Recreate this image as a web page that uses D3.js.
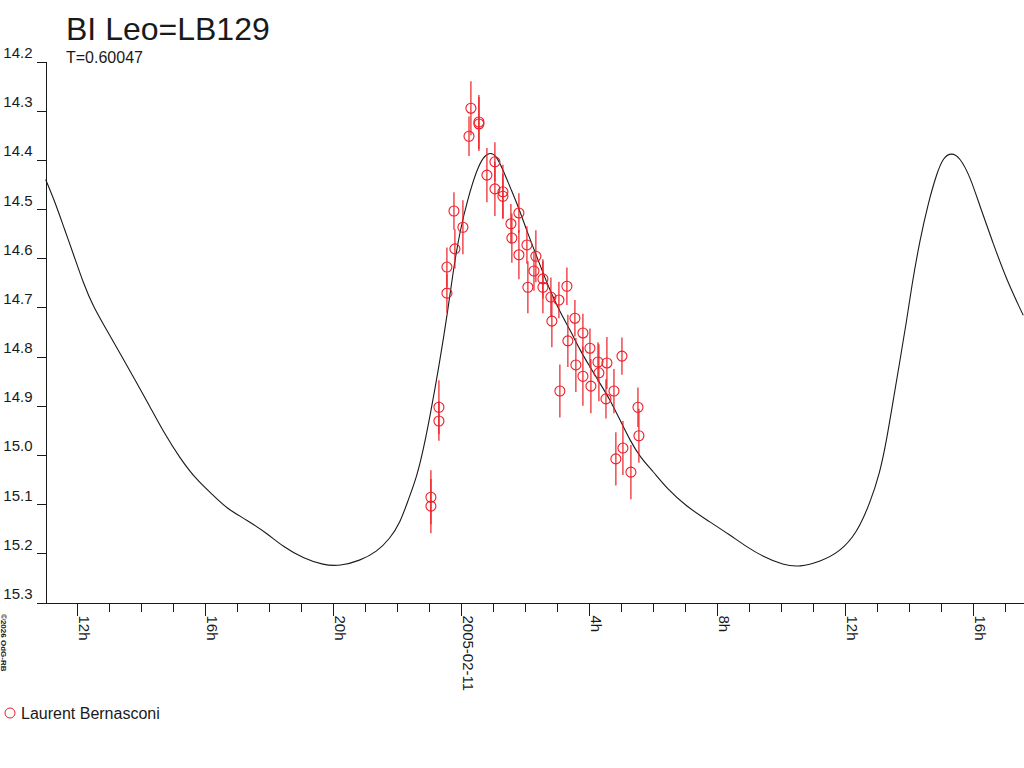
<!DOCTYPE html>
<html>
<head>
<meta charset="utf-8">
<script src="https://cdn.jsdelivr.net/npm/d3@7"></script>
<style>
  body { margin: 0; background: #fff; }
  svg { display: block; font-family: "Liberation Sans", Arial, sans-serif; }
</style>
</head>
<body>
<div class="lightCurve"></div>
<script>
// hours counted from 2005-02-11 00:00 UT
const base = Date.UTC(2005, 1, 11, 0, 0)

const obsHours = [-0.94, -0.94, -0.69, -0.69, -0.44, -0.44, -0.19, -0.22, 0.06, 0.25,
  0.31, 0.56, 0.56, 0.81, 1.06, 1.06, 1.31, 1.31, 1.56, 1.59,
  1.81, 1.81, 2.06, 2.09, 2.28, 2.34, 2.56, 2.56, 2.81, 2.84,
  3.06, 3.31, 3.34, 3.09, 3.56, 3.59, 3.81, 3.81, 4.03, 4.06,
  4.28, 4.31, 4.56, 4.53, 4.78, 5.03, 4.84, 5.06, 5.31, 5.53, 5.56]
const obsMag = [15.087, 15.105, 14.904, 14.932, 14.619, 14.672, 14.582, 14.505, 14.538, 14.353,
  14.296, 14.324, 14.328, 14.432, 14.405, 14.460, 14.466, 14.475, 14.531, 14.560,
  14.509, 14.594, 14.574, 14.660, 14.627, 14.597, 14.643, 14.660, 14.680, 14.729,
  14.686, 14.658, 14.769, 14.871, 14.723, 14.818, 14.753, 14.841, 14.784, 14.861,
  14.812, 14.834, 14.814, 14.887, 14.871, 14.800, 15.009, 14.987, 15.036, 14.904, 14.962]
const obsErr = [0.055, 0.055, 0.055, 0.04, 0.04, 0.04, 0.04, 0.038, 0.055, 0.04,
  0.055, 0.055, 0.055, 0.055, 0.04, 0.055, 0.055, 0.045, 0.04, 0.05,
  0.04, 0.05, 0.038, 0.053, 0.04, 0.053, 0.04, 0.053, 0.04, 0.053,
  0.037, 0.038, 0.053, 0.054, 0.037, 0.055, 0.039, 0.06, 0.04, 0.055,
  0.04, 0.058, 0.053, 0.04, 0.045, 0.038, 0.054, 0.055, 0.055, 0.04, 0.055]

const curveHours = [-12.98, -12.69, -12.38, -12.12, -11.80, -11.49, -11.07, -10.66, -10.13, -9.72,
  -9.30, -8.78, -8.26, -7.74, -7.32, -6.70, -6.07, -5.55, -4.93, -4.30,
  -3.78, -3.16, -2.63, -2.22, -1.91, -1.65, -1.38, -1.18, -0.97, -0.68,
  -0.40, -0.24, -0.03, 0.23, 0.49, 0.70, 0.91, 1.09, 1.32, 1.53,
  1.79, 2.05, 2.31, 2.57, 2.78, 3.09, 3.41, 3.72, 4.03, 4.34,
  4.66, 4.97, 5.28, 5.59, 6.01, 6.43, 7.05, 7.68, 8.41, 8.93,
  9.45, 10.07, 10.59, 11.22, 11.84, 12.37, 12.78, 13.09, 13.30, 13.51,
  13.72, 13.93, 14.08, 14.34, 14.60, 14.87, 15.07, 15.33, 15.59, 15.91,
  16.22, 16.63, 17.05, 17.57]
const curveMag = [14.441, 14.486, 14.544, 14.591, 14.652, 14.700, 14.747, 14.794, 14.855, 14.903,
  14.954, 15.008, 15.052, 15.083, 15.110, 15.133, 15.160, 15.188, 15.211, 15.225,
  15.227, 15.216, 15.198, 15.171, 15.140, 15.093, 15.045, 14.991, 14.923, 14.818,
  14.703, 14.625, 14.544, 14.476, 14.422, 14.394, 14.386, 14.391, 14.422, 14.456,
  14.496, 14.544, 14.588, 14.632, 14.666, 14.710, 14.747, 14.788, 14.822, 14.855,
  14.889, 14.930, 14.971, 15.005, 15.035, 15.069, 15.106, 15.133, 15.164, 15.188,
  15.208, 15.225, 15.229, 15.218, 15.198, 15.160, 15.099, 15.038, 14.971, 14.889,
  14.808, 14.727, 14.659, 14.564, 14.489, 14.428, 14.396, 14.386, 14.396, 14.435,
  14.496, 14.571, 14.645, 14.717]

const yTicks = [14.2, 14.3, 14.4, 14.5, 14.6, 14.7, 14.8, 14.9, 15.0, 15.1, 15.2, 15.3]
const xMajorHours = [-12, -8, -4, 0, 4, 8, 12, 16]
const xMajorLabels = ["12h", "16h", "20h", "2005-02-11", "4h", "8h", "12h", "16h"]
const xMinorHours = d3.range(-12, 18)

const toDate = h => new Date(base + h * 3600e3)

const red = "#ed1c24"
const ink = "#1a1a1a"

const canvas = d3.select(".lightCurve").append("svg")
  .attr("width", 1024)
  .attr("height", 768)

const x = d3.scaleUtc()
  .domain([toDate(-13), toDate(17.594)])
  .range([45, 1024])

const y = d3.scaleLinear()
  .domain([14.2, 15.3])
  .range([61, 602])

// title
canvas.append("text")
  .attr("x", 66).attr("y", 40)
  .style("font-size", "32px")
  .attr("fill", ink)
  .text("BI Leo=LB129")

canvas.append("text")
  .attr("x", 66).attr("y", 63)
  .style("font-size", "16px")
  .attr("fill", ink)
  .text("T=0.60047")

// axes
const yAxis = canvas.append("g")
  .attr("transform", "translate(45.5,0.5)")
  .call(d3.axisLeft(y).tickValues(yTicks).tickSize(9).tickSizeOuter(0)
    .tickFormat(d3.format(".1f")))

yAxis.selectAll("text")
  .attr("x", -13)
  .attr("dy", -4)
  .style("font-size", "15px")
  .style("font-family", "Liberation Sans, Arial, sans-serif")
  .attr("fill", ink)

canvas.append("g")
  .attr("transform", "translate(0.5,602.5)")
  .call(d3.axisBottom(x).tickValues(xMinorHours.map(toDate)).tickSize(9)
    .tickSizeOuter(0).tickFormat(""))

const xAxis = canvas.append("g")
  .attr("transform", "translate(0.5,602.5)")
  .call(d3.axisBottom(x).tickValues(xMajorHours.map(toDate)).tickSize(13)
    .tickSizeOuter(0).tickFormat((d, i) => xMajorLabels[i]))

xAxis.selectAll("text")
  .attr("x", 0).attr("y", 0).attr("dy", 0)
  .attr("text-anchor", "start")
  .attr("transform", "translate(1,13) rotate(90)")
  .style("font-size", "15px")
  .style("font-family", "Liberation Sans, Arial, sans-serif")
  .attr("fill", ink)

canvas.selectAll(".domain, .tick line")
  .attr("stroke", ink)
  .attr("shape-rendering", "crispEdges")

// model curve
const line = d3.line()
  .x(d => x(toDate(d[0])))
  .y(d => y(d[1]))
  .curve(d3.curveBasis)

canvas.append("path")
  .datum(curveHours.map((h, i) => [h, curveMag[i]]))
  .attr("d", line)
  .attr("fill", "none")
  .attr("stroke", ink)
  .attr("stroke-width", 1.1)

// observations
const obs = obsHours.map((h, i) => ({ h: h, m: obsMag[i], e: obsErr[i] }))

const points = canvas.append("g").selectAll(".obs")
  .data(obs)
  .enter()
  .append("g")
  .attr("class", "obs")

points.append("line")
  .attr("x1", d => x(toDate(d.h)))
  .attr("x2", d => x(toDate(d.h)))
  .attr("y1", d => y(d.m - d.e))
  .attr("y2", d => y(d.m + d.e))
  .attr("stroke", red)
  .attr("stroke-width", 1.2)

points.append("circle")
  .attr("cx", d => x(toDate(d.h)))
  .attr("cy", d => y(d.m))
  .attr("r", 5)
  .attr("fill", "none")
  .attr("stroke", red)
  .attr("stroke-width", 1.1)

// legend
canvas.append("circle")
  .attr("cx", 10).attr("cy", 713).attr("r", 5)
  .attr("fill", "none")
  .attr("stroke", red)

canvas.append("text")
  .attr("x", 21).attr("y", 719)
  .style("font-size", "16px")
  .attr("fill", ink)
  .text("Laurent Bernasconi")

canvas.append("text")
  .attr("transform", "translate(1,614) rotate(90)")
  .style("font-size", "8px")
  .style("font-weight", "bold")
  .attr("fill", ink)
  .text("©2026 OdG-RB")
</script>
</body>
</html>
